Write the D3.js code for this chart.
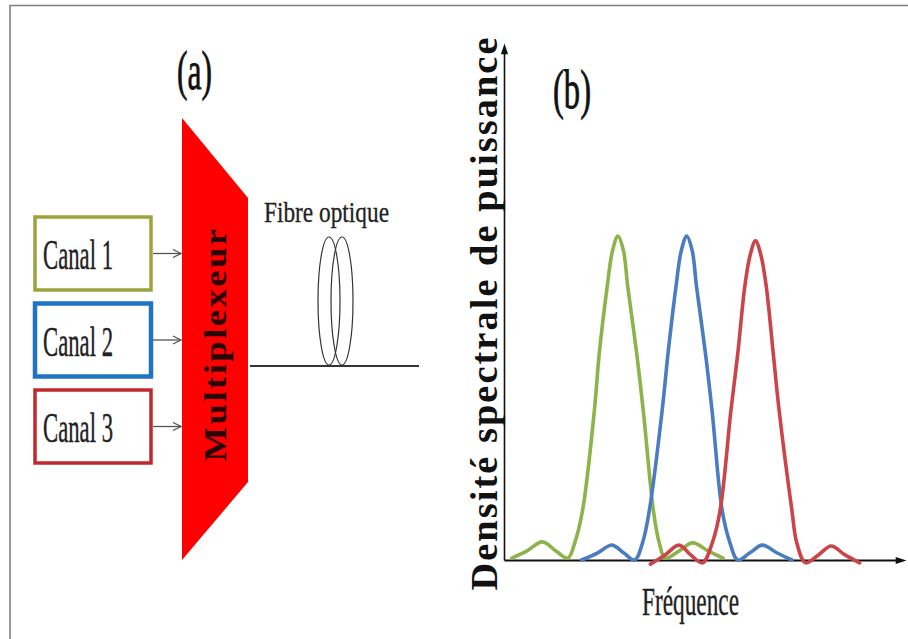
<!DOCTYPE html>
<html>
<head>
<meta charset="utf-8">
<script src="https://cdn.jsdelivr.net/npm/d3@7"></script>
<style>
  body { margin: 0; background: #fff; }
  svg { display: block; }
</style>
</head>
<body>
<script>
var width = 908;
var height = 639;

// (a) canaux d'entree
var channels = ["Canal 1", "Canal 2", "Canal 3"];
var channelColors = ["#9aa43c", "#1f74c4", "#c1282e"];

// (b) spectres : [frequence (u.a.), densite (u.a.)]
var canal1Spectrum = [
  [0.8, 0.006], [2.3, 0.028], [3.9, 0.057], [5.3, 0.028], [6.5, 0.006],
  [7.2, 0.054], [8.0, 0.157], [9.2, 0.472], [9.7, 0.652], [10.5, 0.86],
  [11.05, 0.975], [11.6, 1.02], [12.15, 0.975], [12.6, 0.86], [13.5, 0.652],
  [14.2, 0.463], [15.2, 0.157], [15.8, 0.054], [16.4, 0.006], [17.8, 0.028],
  [19.2, 0.054], [20.8, 0.028], [22.3, 0.006]
];
var canal2Spectrum = [
  [7.9, 0.0], [9.5, 0.022], [11.0, 0.047], [12.2, 0.022], [13.3, 0.0],
  [14.1, 0.054], [14.8, 0.157], [16.1, 0.472], [16.7, 0.652], [17.5, 0.86],
  [18.05, 0.975], [18.6, 1.02], [19.15, 0.975], [19.6, 0.86], [20.5, 0.652],
  [21.2, 0.463], [22.2, 0.157], [23.0, 0.054], [23.8, 0.0], [25.0, 0.022],
  [26.3, 0.047], [27.8, 0.022], [29.3, 0.0]
];
var canal3Spectrum = [
  [14.9, -0.013], [16.4, 0.016], [17.8, 0.047], [19.0, 0.016], [20.2, -0.009],
  [21.2, 0.054], [22.0, 0.157], [23.1, 0.472], [23.8, 0.652], [24.5, 0.86],
  [25.05, 0.96], [25.6, 1.005], [26.15, 0.96], [26.7, 0.86], [27.4, 0.652],
  [28.0, 0.472], [29.3, 0.157], [29.8, 0.054], [30.7, -0.009], [32.0, 0.016],
  [33.3, 0.044], [34.7, 0.016], [36.2, -0.009]
];
var spectra = [canal1Spectrum, canal2Spectrum, canal3Spectrum];
var spectrumColors = ["#8db34b", "#4a7dc0", "#cc4449"];

var serif = "'Liberation Serif', 'Times New Roman', serif";

var svg = d3.select("body").append("svg")
    .attr("width", width)
    .attr("height", height);

var defs = svg.append("defs");
defs.append("marker")
    .attr("id", "open-arrow")
    .attr("viewBox", "0 0 10 10")
    .attr("refX", 9).attr("refY", 5)
    .attr("markerWidth", 10).attr("markerHeight", 10)
    .attr("markerUnits", "userSpaceOnUse")
    .attr("orient", "auto")
  .append("path")
    .attr("d", "M1,1L9,5L1,9")
    .attr("fill", "none")
    .attr("stroke", "#555")
    .attr("stroke-width", 1.3);
defs.append("marker")
    .attr("id", "solid-arrow")
    .attr("viewBox", "0 0 12 10")
    .attr("refX", 2).attr("refY", 5)
    .attr("markerWidth", 12).attr("markerHeight", 9)
    .attr("markerUnits", "userSpaceOnUse")
    .attr("orient", "auto")
  .append("path")
    .attr("d", "M0,1L12,5L0,9Z")
    .attr("fill", "#111");

// cadre gris (haut et gauche)
svg.append("path")
    .attr("d", "M10,639V5.5H908")
    .attr("fill", "none")
    .attr("stroke", "#808080")
    .attr("stroke-width", 1.6);

// ---------- (a) ----------
svg.append("text")
    .attr("x", 177).attr("y", 89)
    .attr("textLength", 35).attr("lengthAdjust", "spacingAndGlyphs")
    .style("font-family", serif).style("font-size", "54px")
    .attr("fill", "#111").attr("stroke", "#111").attr("stroke-width", 0.8)
    .text("(a)");

var yBox = d3.scaleBand()
    .domain(channels)
    .range([215, 465])
    .paddingInner(0.11);

var boxes = svg.selectAll("g.canal")
    .data(channels)
  .enter().append("g")
    .attr("class", "canal")
    .attr("transform", function(d) { return "translate(0," + yBox(d) + ")"; });

boxes.append("rect")
    .attr("x", 35).attr("y", 2)
    .attr("width", 116)
    .attr("height", yBox.bandwidth() - 4)
    .attr("fill", "#fff")
    .attr("stroke", function(d, i) { return channelColors[i]; })
    .attr("stroke-width", function(d, i) { return i == 1 ? 4.5 : 3.5; });

boxes.append("text")
    .attr("x", 43).attr("y", 54)
    .attr("textLength", 70).attr("lengthAdjust", "spacingAndGlyphs")
    .style("font-family", serif).style("font-size", "42px")
    .attr("fill", "#222").attr("stroke", "#222").attr("stroke-width", 0.4)
    .text(function(d) { return d; });

boxes.append("line")
    .attr("x1", 153).attr("x2", 181)
    .attr("y1", yBox.bandwidth() / 2).attr("y2", yBox.bandwidth() / 2)
    .attr("stroke", "#555")
    .attr("stroke-width", 1.3)
    .attr("marker-end", "url(#open-arrow)");

// multiplexeur
svg.append("path")
    .attr("d", "M182,118L248,198L248,482L182,560Z")
    .attr("fill", "#ff0000");

svg.append("text")
    .attr("transform", "translate(226,344) rotate(-90)")
    .attr("text-anchor", "middle")
    .attr("textLength", 235).attr("lengthAdjust", "spacingAndGlyphs")
    .style("font-family", serif).style("font-size", "31px")
    .style("font-weight", "bold").style("letter-spacing", "2px")
    .attr("fill", "#2a0505")
    .text("Multiplexeur");

// fibre
svg.append("line")
    .attr("x1", 250).attr("x2", 419)
    .attr("y1", 366).attr("y2", 366)
    .attr("stroke", "#333")
    .attr("stroke-width", 2);

svg.selectAll("ellipse.loop")
    .data([329, 342])
  .enter().append("ellipse")
    .attr("class", "loop")
    .attr("cx", function(d) { return d; })
    .attr("cy", 301)
    .attr("rx", 11).attr("ry", 64)
    .attr("fill", "none")
    .attr("stroke", "#333")
    .attr("stroke-width", 1.2);

svg.append("text")
    .attr("x", 264).attr("y", 222)
    .attr("textLength", 125).attr("lengthAdjust", "spacingAndGlyphs")
    .style("font-family", serif).style("font-size", "29px")
    .attr("fill", "#222").attr("stroke", "#222").attr("stroke-width", 0.3)
    .text("Fibre optique");

// ---------- (b) ----------
var x = d3.scaleLinear()
    .domain([0, 40])
    .range([504, 897]);

var y = d3.scaleLinear()
    .domain([0, 1.6])
    .range([560, 52]);

var xAxis = d3.axisBottom(x).tickValues([]).tickSizeOuter(0);
var yAxis = d3.axisLeft(y).tickValues([]).tickSizeOuter(0);

svg.append("g")
    .attr("class", "axis")
    .attr("transform", "translate(0," + y(0) + ")")
    .call(xAxis)
    .select(".domain")
      .attr("stroke", "#111")
      .attr("stroke-width", 2)
      .attr("marker-end", "url(#solid-arrow)");

svg.append("g")
    .attr("class", "axis")
    .attr("transform", "translate(" + x(0) + ",0)")
    .call(yAxis)
    .select(".domain")
      .attr("stroke", "#111")
      .attr("stroke-width", 1.6)
      .attr("marker-end", "url(#solid-arrow)");

var line = d3.line()
    .x(function(d) { return x(d[0]); })
    .y(function(d) { return y(d[1]); })
    .curve(d3.curveCatmullRom.alpha(0.5));

svg.selectAll("path.spectre")
    .data(spectra)
  .enter().append("path")
    .attr("class", "spectre")
    .attr("d", line)
    .attr("fill", "none")
    .attr("stroke", function(d, i) { return spectrumColors[i]; })
    .attr("stroke-width", 3.6)
    .attr("stroke-linejoin", "round")
    .attr("stroke-linecap", "round");

svg.append("text")
    .attr("x", 553).attr("y", 108)
    .attr("textLength", 38).attr("lengthAdjust", "spacingAndGlyphs")
    .style("font-family", serif).style("font-size", "54px")
    .attr("fill", "#111").attr("stroke", "#111").attr("stroke-width", 0.8)
    .text("(b)");

svg.append("text")
    .attr("transform", "translate(497,313) rotate(-90)")
    .attr("text-anchor", "middle")
    .attr("textLength", 555).attr("lengthAdjust", "spacingAndGlyphs")
    .style("font-family", serif).style("font-size", "37px")
    .style("font-weight", "bold").style("letter-spacing", "2px")
    .attr("fill", "#111")
    .text("Densité spectrale de puissance");

svg.append("text")
    .attr("x", 642).attr("y", 615)
    .attr("textLength", 97).attr("lengthAdjust", "spacingAndGlyphs")
    .style("font-family", serif).style("font-size", "40px")
    .attr("fill", "#222").attr("stroke", "#222").attr("stroke-width", 0.4)
    .text("Fréquence");
</script>
</body>
</html>
